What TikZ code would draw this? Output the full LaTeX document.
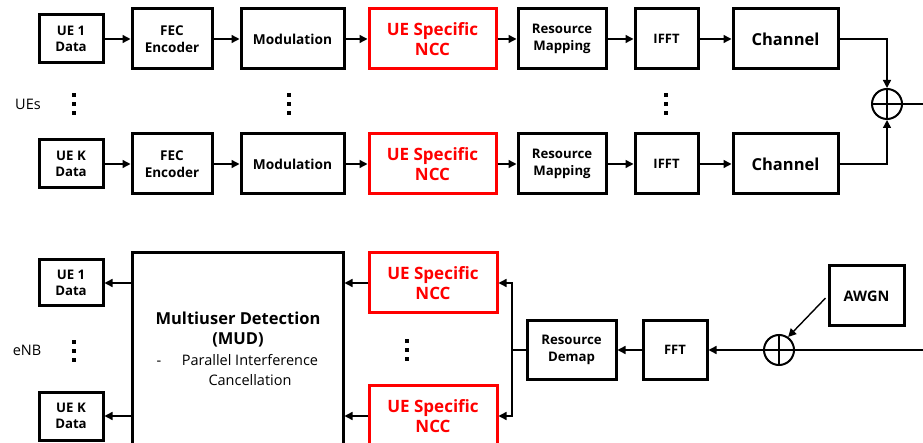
\documentclass[tikz,border=0pt]{standalone}
\usepackage{fontspec}
\setmainfont{Open Sans}
\usetikzlibrary{arrows.meta}
\newcommand\setfs[2]{\fontsize{#1}{#2}\selectfont}
\begin{document}
\begin{tikzpicture}[x=1pt,y=-1pt,
  box/.style={draw, line width=3pt, align=center, inner sep=0pt,
    font=\bfseries\setfs{13.2}{16.5}},
  nccbox/.style={box, draw=nccred, text=nccred, font=\bfseries\setfs{17}{20.5},
    minimum width=127pt, minimum height=60pt},
  conn/.style={line width=1.4pt, -{Triangle[length=8pt,width=8pt]}},
  wire/.style={line width=1.4pt},
  adder/.style={circle, draw, line width=2pt, minimum size=30pt, inner sep=0pt},
  side/.style={font=\setfs{14.5}{16}},
]
\definecolor{nccred}{RGB}{255,0,0}
\clip (0,0) rectangle (923,443);

% ---------------- transmitter chains ----------------
\foreach \r/\lab/\yy in {A/1/39, K/K/164}{
  \node[box, minimum width=64pt, minimum height=48pt] (ue\r) at (71,\yy) {UE \lab\\Data};
  \node[box, minimum width=80pt, minimum height=60pt, font=\bfseries\setfs{13.5}{16.5}] (fec\r) at (172,\yy) {FEC\\Encoder};
  \node[box, minimum width=103pt, minimum height=60pt, font=\bfseries\setfs{13.7}{16}] (mod\r) at (292.5,\yy) {Modulation};
  \node[nccbox] (ncc\r) at (432.5,\yy) {UE Specific\\NCC};
  \node[box, minimum width=88pt, minimum height=60pt] (map\r) at (562,\yy) {Resource\\Mapping};
  \node[box, minimum width=63pt, minimum height=60pt, font=\bfseries\setfs{13}{14}] (ifft\r) at (666.5,\yy) {IFFT};
  \node[box, minimum width=105pt, minimum height=60pt, font=\bfseries\setfs{16.5}{20}] (ch\r) at (785.5,\yy) {Channel};
  \draw[conn] (ue\r.east) -- (fec\r.west);
  \draw[conn] (fec\r.east) -- (mod\r.west);
  \draw[conn] (mod\r.east) -- (ncc\r.west);
  \draw[conn] (ncc\r.east) -- (map\r.west);
  \draw[conn] (map\r.east) -- (ifft\r.west);
  \draw[conn] (ifft\r.east) -- (ch\r.west);
}

% sum of all user signals
\node[adder] (sumT) at (887,104) {};
\draw[line width=1.6pt] (sumT.north) -- (sumT.south) (sumT.west) -- (sumT.east);
\coordinate (outT) at (923,104);
\draw[conn] (chA.east) -| (sumT.north);
\draw[conn] (chK.east) -| (sumT.south);
\draw[wire] (sumT.east) -- (outT);

\node[side] (ueslab) at (28,104) {UEs};

% ---------------- receiver ----------------
\node[box, minimum width=64pt, minimum height=46pt] (rx1) at (71,283) {UE 1\\Data};
\node[box, minimum width=64pt, minimum height=48pt] (rxK) at (71,416) {UE K\\Data};
\node[box, minimum width=211pt, minimum height=194pt] (mud) at (237.5,350) {};
\node[font=\bfseries\setfs{16.5}{20}, align=center] (mudtitle) at (238,330) {Multiuser Detection\\(MUD)};
\node[font=\setfs{14.5}{20}, anchor=base] (muddash) at (159,365) {-};
\node[font=\setfs{14.5}{20}, align=center] (mudnote) at (250,370) {Parallel Interference\\Cancellation};

\node[nccbox, minimum width=128pt] (nccB1) at (433,283) {UE Specific\\NCC};
\node[nccbox, minimum width=128pt, minimum height=62pt] (nccBK) at (433,416) {UE Specific\\NCC};
\node[box, minimum width=89pt, minimum height=59pt] (dem) at (571.5,350) {Resource\\Demap};
\node[box, minimum width=64pt, minimum height=59pt, font=\bfseries\setfs{13}{14}] (fft) at (675,350) {FFT};
\node[adder] (sumR) at (779,350) {};
\draw[line width=1.6pt] (sumR.north) -- (sumR.south) (sumR.west) -- (sumR.east);
\node[box, minimum width=75pt, minimum height=60pt, font=\bfseries\setfs{14.5}{16}] (awgn) at (866.5,296) {AWGN};
\coordinate (inR) at (923,350);
\coordinate (split) at (512,350);

\draw[wire] (inR) -- (sumR.east);
\draw[conn, shorten <=3pt] (awgn.west) -- (sumR.55);
\draw[conn] (sumR.west) -- (fft.east);
\draw[conn] (fft.west) -- (dem.east);
\draw[wire] (dem.west) -- (split);
\draw[conn] (split) |- (nccB1.east);
\draw[conn] (split) |- (nccBK.east);
\draw[conn] (nccB1.west) -- (nccB1.west -| mud.east);
\draw[conn] (nccBK.west) -- (nccBK.west -| mud.east);
\draw[conn] (rx1.east -| mud.west) -- (rx1.east);
\draw[conn] (rxK.east -| mud.west) -- (rxK.east);

\node[side] (enblab) at (27,350) {eNB};

% vertical ellipses
\foreach \x/\y in {74/104, 289/104, 666/104, 74/351, 407/350}{
  \foreach \d in {-9,0,9}{
    \fill (\x-1.7,\y+\d-1.7) rectangle ++(3.4,3.4);
  }
}
\end{tikzpicture}
\end{document}
